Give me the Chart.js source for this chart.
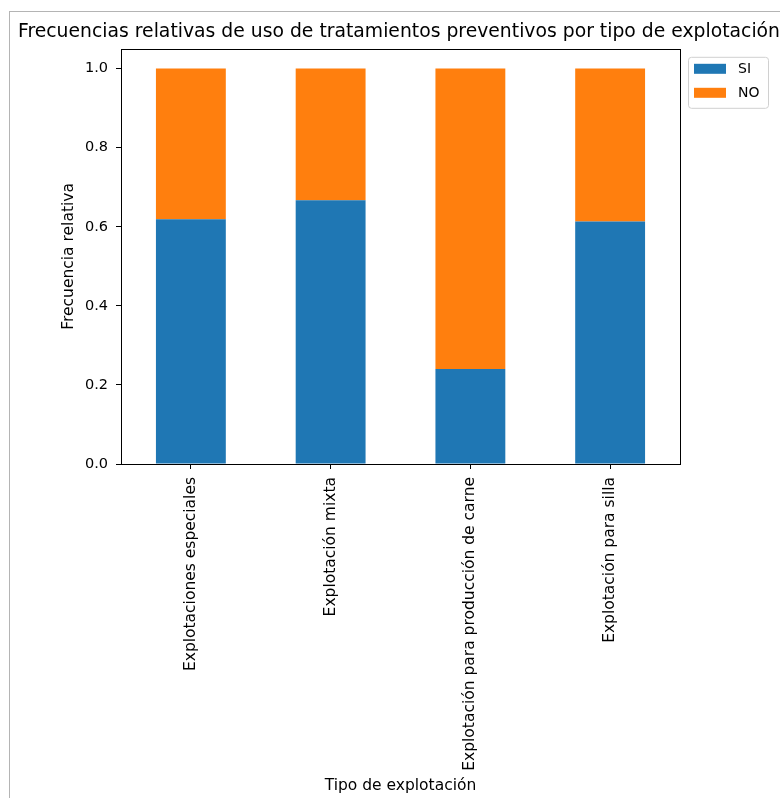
<!DOCTYPE html>
<html>
<head>
<meta charset="utf-8">
<script src="https://cdn.jsdelivr.net/npm/chart.js@4/dist/chart.umd.min.js"></script>
<style>
html,body{margin:0;padding:0;background:#fff;width:780px;height:798px;overflow:hidden;}
#frame{position:absolute;left:9px;top:11px;width:800px;height:800px;border-left:1px solid #b4b4b4;border-top:1px solid #b4b4b4;}
#wrap{position:absolute;left:0;top:0;width:780px;height:798px;}
</style>
</head>
<body>
<div id="frame"></div>
<div id="wrap"><canvas id="c" width="780" height="798"></canvas></div>
<script>
// ---- data ----
const categories = [
  'Explotaciones especiales',
  'Explotación mixta',
  'Explotación para producción de carne',
  'Explotación para silla'
];
const siValues = [0.619, 0.667, 0.240, 0.613];
const noValues = [0.381, 0.333, 0.760, 0.387];
const yTickValues = [0.0, 0.2, 0.4, 0.6, 0.8, 1.0];
const seriesLabels = ['SI', 'NO'];
const seriesColors = ['#1f77b4', '#ff7f0e'];
const titleText = 'Frecuencias relativas de uso de tratamientos preventivos por tipo de explotación';
const xTitle = 'Tipo de explotación';
const yTitle = 'Frecuencia relativa';

const FONT = "'DejaVu Sans', sans-serif";

const framePlugin = {
  id: 'axesFrame',
  afterDatasetsDraw(chart) {
    const {ctx, chartArea: a} = chart;
    ctx.save();
    ctx.strokeStyle = '#000';
    ctx.lineWidth = 1;
    ctx.strokeRect(Math.round(a.left) + 0.5, Math.round(a.top) + 0.5,
                   Math.round(a.right - a.left), Math.round(a.bottom - a.top));
    ctx.restore();
  }
};

const legendPlugin = {
  id: 'mplLegend',
  afterDraw(chart) {
    const {ctx, chartArea: a} = chart;
    const x0 = a.right + 8, y0 = a.top + 8, w = 80, h = 51;
    ctx.save();
    ctx.fillStyle = 'rgba(255,255,255,0.8)';
    ctx.strokeStyle = '#d0d0d0';
    ctx.lineWidth = 1;
    ctx.beginPath();
    if (ctx.roundRect) ctx.roundRect(x0 + 0.5, y0 + 0.5, w, h, 3); else ctx.rect(x0 + 0.5, y0 + 0.5, w, h);
    ctx.fill();
    ctx.stroke();
    ctx.font = '14px ' + FONT;
    ctx.textBaseline = 'middle';
    chart.data.datasets.forEach((ds, i) => {
      const cy = y0 + 12 + i * 24;
      ctx.fillStyle = ds.backgroundColor;
      ctx.fillRect(x0 + 6, cy - 5, 32, 10);
      ctx.fillStyle = '#000';
      ctx.fillText(ds.label, x0 + 50, cy + 1);
    });
    ctx.restore();
  }
};

new Chart(document.getElementById('c'), {
  type: 'bar',
  data: {
    labels: categories,
    datasets: [
      {label: seriesLabels[0], data: siValues, backgroundColor: seriesColors[0], borderWidth: 0},
      {label: seriesLabels[1], data: noValues, backgroundColor: seriesColors[1], borderWidth: 0}
    ]
  },
  options: {
    responsive: false,
    animation: false,
    devicePixelRatio: 1,
    layout: {padding: {left: 18, right: 0, top: 0, bottom: 3}},
    datasets: {bar: {barPercentage: 0.5, categoryPercentage: 1.0}},
    plugins: {
      legend: {display: false},
      tooltip: {enabled: false},
      title: {
        display: true,
        text: titleText,
        color: '#000',
        font: {family: FONT, size: 19, weight: 'normal'},
        padding: {top: 21, bottom: 5}
      }
    },
    scales: {
      x: {
        stacked: true,
        offset: true,
        grid: {display: true, drawOnChartArea: false, drawTicks: true, tickLength: 5, color: '#000', offset: false},
        border: {display: false},
        ticks: {
          color: '#000', font: {family: FONT, size: 15.5},
          maxRotation: 90, minRotation: 90, autoSkip: false, padding: 8
        },
        title: {display: true, text: xTitle, color: '#000', font: {family: FONT, size: 15.5}, padding: 0},
        afterFit(s) { s.height = 331; }
      },
      y: {
        stacked: true,
        min: 0,
        max: 1.05,
        grid: {display: true, drawOnChartArea: false, drawTicks: true, tickLength: 5, color: '#000'},
        border: {display: false},
        ticks: {
          color: '#000', font: {family: FONT, size: 14.5}, padding: 8,
          callback: v => Number(v).toFixed(1)
        },
        afterBuildTicks(s) { s.ticks = yTickValues.map(v => ({value: v})); },
        title: {display: true, text: yTitle, color: '#000', font: {family: FONT, size: 15.5}, padding: {top: 42, bottom: 0}},
        afterFit(s) { s.width = 103; }
      },
      yRight: {
        type: 'linear',
        position: 'right',
        display: true,
        grid: {display: false},
        border: {display: false},
        ticks: {display: false},
        afterFit(s) { s.width = 100; }
      }
    }
  },
  plugins: [framePlugin, legendPlugin]
});
</script>
</body>
</html>
